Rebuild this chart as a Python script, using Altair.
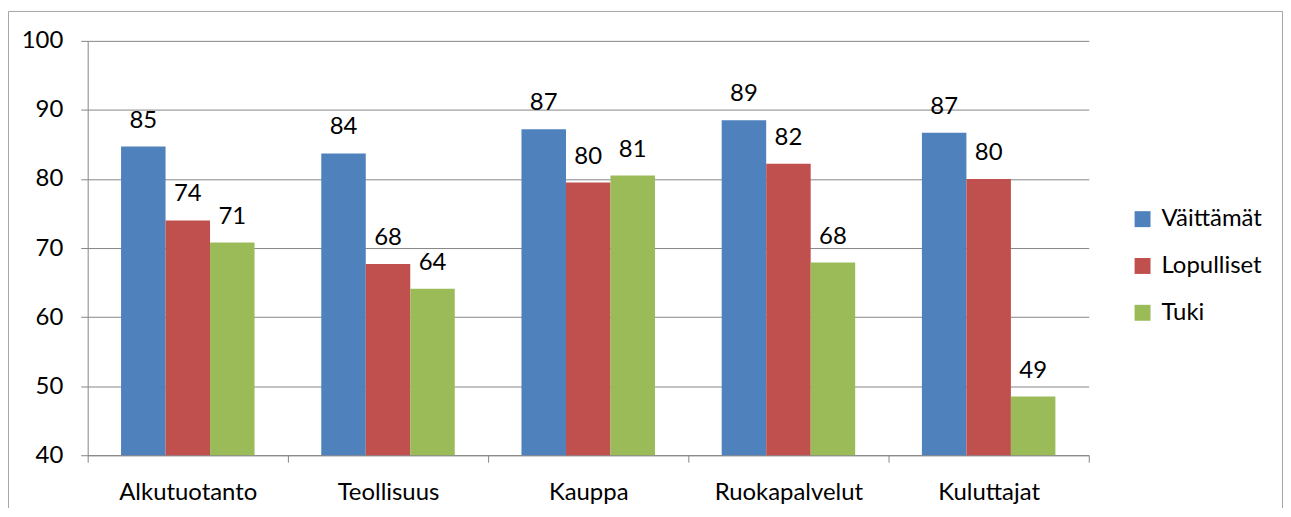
import altair as alt
import pandas as pd

categories = ["Alkutuotanto", "Teollisuus", "Kauppa", "Ruokapalvelut", "Kuluttajat"]
series = ["Väittämät", "Lopulliset", "Tuki"]
vaittamat = [84.7, 83.7, 87.2, 88.5, 86.7]
lopulliset = [74.0, 67.7, 79.5, 82.2, 80.0]
tuki = [70.8, 64.1, 80.5, 67.9, 48.5]
colors = ["#4F81BD", "#C0504D", "#9BBB59"]
y_ticks = [40, 50, 60, 70, 80, 90, 100]

rows = []
for s, vals in zip(series, [vaittamat, lopulliset, tuki]):
    for c, v in zip(categories, vals):
        rows.append({"category": c, "series": s, "value": v})
df = pd.DataFrame(rows)

FONT = "Lato"
GRAY = "#868686"

x = alt.X("category:N", sort=categories, title=None,
          scale=alt.Scale(paddingInner=0, paddingOuter=0),
          axis=alt.Axis(labelAngle=0, tickBand="extent", tickSize=7, labelPadding=18,
                        labelFontSize=24, labelFont=FONT, labelColor="black",
                        domainColor=GRAY, tickColor=GRAY, grid=False))
xo = alt.XOffset("series:N", sort=series,
                 scale=alt.Scale(paddingInner=0, paddingOuter=0.75))
y = alt.Y("value:Q", title=None,
          scale=alt.Scale(domain=[40, 100], nice=False, zero=False),
          axis=alt.Axis(values=y_ticks, tickSize=7, labelPadding=18,
                        labelFontSize=24, labelFont=FONT, labelColor="black",
                        domainColor=GRAY, tickColor=GRAY, grid=True, gridColor=GRAY))

base = alt.Chart(df)

bars = base.mark_bar().encode(
    x=x, xOffset=xo, y=y, y2=alt.datum(40),
    color=alt.Color("series:N", sort=series,
                    scale=alt.Scale(domain=series, range=colors),
                    legend=alt.Legend(title=None, orient="none", legendX=1047, legendY=167,
                                      symbolType="square", symbolSize=256,
                                      symbolStrokeWidth=0, labelFontSize=24,
                                      labelFont=FONT, labelColor="black",
                                      labelOffset=7, rowPadding=23, padding=0)),
)

labels = base.mark_text(baseline="alphabetic", dy=-19, fontSize=24, font=FONT,
                        color="black").encode(
    x=x, xOffset=xo, y=y, text=alt.Text("value:Q", format=".0f"))

border = alt.Chart(alt.Data(values=[{}])).mark_rect(
    fillOpacity=0, stroke="#a6a6a6", strokeWidth=1).encode(
    x=alt.value(-79.5), x2=alt.value(1199.5), y=alt.value(-29.5), y2=alt.value(480))

chart = alt.layer(bars, labels, border).properties(
    width=1005, height=416,
    autosize=alt.AutoSizeParams(type="none"),
    padding={"left": 80, "top": 32, "right": 195, "bottom": 52},
).configure_view(strokeWidth=0)

chart.save("out.html", embed_options={"renderer": "svg", "actions": False})
